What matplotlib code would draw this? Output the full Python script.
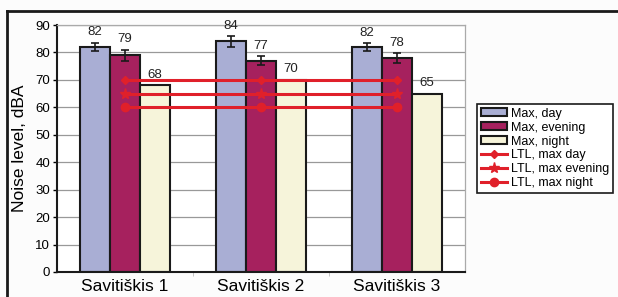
import numpy as np
import matplotlib.pyplot as plt
from matplotlib.lines import Line2D

# data
sites = ['Savitiškis 1', 'Savitiškis 2', 'Savitiškis 3']
max_day = [82, 84, 82]
max_evening = [79, 77, 78]
max_night = [68, 70, 65]
err_day = [1.5, 2.0, 1.4]
err_evening = [2.0, 1.7, 1.8]
ltl_day = 70
ltl_evening = 65
ltl_night = 60
yticks = list(range(0, 91, 10))

plt.rcParams['font.family'] = ['Liberation Sans', 'DejaVu Sans']

fig = plt.figure(figsize=(6.18, 2.97), dpi=100, facecolor='#fcfcfc')
ax = fig.add_axes([57/618, 1-272/297, (465-57)/618, (272-25)/297])
ax.set_facecolor('white')

x = np.arange(len(sites))
w = 0.22
cols = ['#a9aed4', '#a6215e', '#f6f4da']
ekw = dict(elinewidth=1.2, capthick=1.2, ecolor='#1a1a1a')
b1 = ax.bar(x - w, max_day, w, color=cols[0], edgecolor='#1a1a1a', linewidth=1.5,
            yerr=err_day, capsize=3, error_kw=ekw, label='Max, day', zorder=2)
b2 = ax.bar(x, max_evening, w, color=cols[1], edgecolor='#1a1a1a', linewidth=1.5,
            yerr=err_evening, capsize=3, error_kw=ekw, label='Max, evening', zorder=2)
b3 = ax.bar(x + w, max_night, w, color=cols[2], edgecolor='#1a1a1a', linewidth=1.5,
            label='Max, night', zorder=2)

for xs, vals, errs in [(x - w, max_day, err_day), (x, max_evening, err_evening),
                       (x + w, max_night, [0, 0, 0])]:
    for xi, v, e in zip(xs, vals, errs):
        ax.text(xi, v + e + 1.6, str(v), ha='center', va='bottom', fontsize=9.5, color='#222222')

red = '#e0202a'
l1, = ax.plot(x, [ltl_day]*3, color=red, lw=2.2, marker='D', ms=4.5, zorder=4, label='LTL, max day')
l2, = ax.plot(x, [ltl_evening]*3, color=red, lw=2.2, marker='*', ms=8, zorder=4, label='LTL, max evening')
l3, = ax.plot(x, [ltl_night]*3, color=red, lw=2.2, marker='o', ms=6, zorder=4, label='LTL, max night')

ax.set_xlim(-0.5, 2.5)
ax.set_ylim(0, 90)
ax.set_yticks(yticks)
ax.set_xticks(x)
ax.set_xticklabels(sites, fontsize=12.5)
ax.set_xticks([0.5, 1.5], minor=True)
ax.tick_params(axis='x', which='major', length=0, pad=5)
ax.tick_params(axis='x', which='minor', length=3, color='#bbbbbb')
ax.tick_params(axis='y', labelsize=9.5, length=3, width=1, pad=2)
ax.yaxis.grid(True, color='#999999', lw=0.9, zorder=0)
ax.set_axisbelow(True)
ax.set_ylabel('Noise level, dBA', fontsize=12.5, labelpad=6)

for s in ['left', 'bottom']:
    ax.spines[s].set_linewidth(1.5)
    ax.spines[s].set_color('#1a1a1a')
for s in ['top', 'right']:
    ax.spines[s].set_color('#aaaaaa')
    ax.spines[s].set_linewidth(0.9)

handles = [b1, b2, b3, l1, l2, l3]
leg = fig.legend(handles, [h.get_label() for h in handles],
                 loc='upper left', bbox_to_anchor=(477/618, 1-104/297), fontsize=9,
                 frameon=True, fancybox=False, edgecolor='#1a1a1a', framealpha=1,
                 labelspacing=0.15, handlelength=2.1, handletextpad=0.3, borderpad=0.3,
                 borderaxespad=0, handleheight=0.6)
leg.get_frame().set_linewidth(1.2)

# outer frame (top and left edges)
fig.add_artist(Line2D([7/618, 1], [1-11/297, 1-11/297], color='#1a1a1a', lw=2))
fig.add_artist(Line2D([7/618, 7/618], [0, 1-11/297], color='#1a1a1a', lw=2))

fig.savefig('out.png', dpi=100, facecolor=fig.get_facecolor())
